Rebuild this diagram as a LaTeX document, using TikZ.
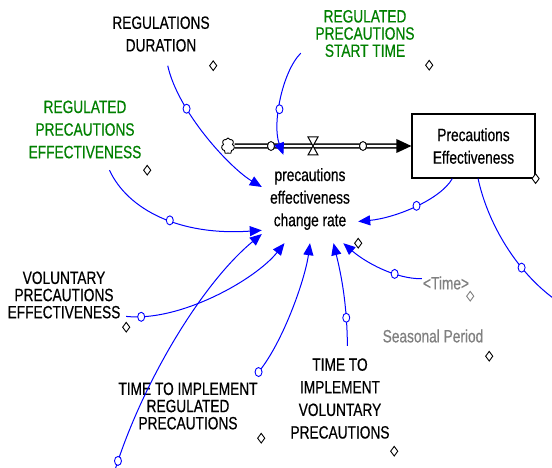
\documentclass[tikz,border=0pt]{standalone}
\usepackage{fontspec}
\setmainfont{Liberation Sans}[FakeStretch=0.77, FakeBold=0.5]
\usetikzlibrary{arrows.meta, shapes.geometric, shapes.symbols, positioning}
\definecolor{lnkblue}{RGB}{0,0,255}
\definecolor{auxgreen}{RGB}{0,128,0}
\definecolor{shdgray}{RGB}{128,128,128}
\newcommand{\loosetxt}{\fontsize{17.8}{22.6}\selectfont}
\newcommand{\tighttxt}{\fontsize{17.8}{17.2}\selectfont}

\begin{document}
\begin{tikzpicture}[x=1pt, y=-1pt,
    lvar/.style={align=center, inner sep=0pt, font=\loosetxt},
    tvar/.style={align=center, inner sep=0pt, font=\tighttxt},
    lvl/.style={lvar, draw, line width=1.2pt, fill=white},
    dmd/.style={diamond, draw, fill=white, line width=0.9pt, minimum width=7.5pt, minimum height=10pt, inner sep=0pt},
    hdl/.style={ellipse, draw=lnkblue, fill=white, line width=0.9pt, minimum width=7pt, minimum height=9pt, inner sep=0pt},
    pdot/.style={hdl, draw=black},
    link/.style={draw=lnkblue, line width=1pt, -{Triangle[length=12pt,width=10pt]}},
    pipe/.style={double, double distance=2.2pt, line width=1.5pt}]
        \fill[white] (0,0) rectangle (552,468);
        \useasboundingbox (0,0) rectangle (552,468);
        \clip (0,0) rectangle (552,468);

        % variables
        \node[lvar, minimum width=104pt, minimum height=63pt] (rd) at (161,34) {REGULATIONS\\DURATION};
        \node[tvar, text=auxgreen, minimum width=128pt, minimum height=63pt] (rst) at (365,33.5) {REGULATED\\PRECAUTIONS\\START TIME};
        \node[lvar, text=auxgreen, minimum width=124pt, minimum height=81pt] (rpe) at (85,129.5) {REGULATED\\PRECAUTIONS\\EFFECTIVENESS};
        \node[lvar, minimum width=96pt, minimum height=88pt] (rate) at (310,199) {precautions\\effectiveness\\change rate};
        \node[tvar, minimum width=124pt, minimum height=64pt] (vpe) at (64,295) {VOLUNTARY\\PRECAUTIONS\\EFFECTIVENESS};
        \node[tvar, minimum width=146pt, minimum height=64pt] (ttirp) at (188,406) {TIME TO IMPLEMENT\\REGULATED\\PRECAUTIONS};
        \node[lvar, minimum width=108pt, minimum height=105pt] (ttivp) at (340,398.5) {TIME TO\\IMPLEMENT\\VOLUNTARY\\PRECAUTIONS};
        \node[lvar, text=shdgray, minimum width=48pt, minimum height=26pt] (tm) at (446,283) {<Time>};
        \node[lvar, text=shdgray, minimum width=112pt, minimum height=40pt] (sp) at (433,336) {Seasonal Period};
        \coordinate (lk) at (112,480);
        \coordinate (rk) at (568,308);

        % flow into the stock
        \node[cloud, cloud puffs=7, draw, fill=white, line width=0.9pt, minimum width=13pt, minimum height=16pt, inner sep=0pt] (cld) at (228,146) {};
        \node[lvl, minimum width=123pt, minimum height=64pt] (stk) at (473.5,146) {Precautions\\Effectiveness};
        \draw[pipe, shorten >=14pt] (cld) -- (stk);
        \fill (stk.west) -- ++(-15,-7) -- ++(0,14) -- cycle;
        \node[pdot] (f1) at (271,146) {};
        \node[pdot] (f2) at (363,146) {};
        \draw[fill=white, line width=1pt] (308,137) -- (318,137) -- (308,155) -- (318,155) -- cycle;

        % links
        \draw[link] (rd.-78) .. controls (178,112) and (230,168) .. (rate.166) node[hdl, pos=0.3] (h1) {};
        \draw[link] (rst.197) .. controls (282,72) and (272,125) .. (rate.121) node[hdl, pos=0.58] (h2) {};
        \draw[link] (rpe.-59) .. controls (128,210) and (180,236) .. (rate.213) node[hdl, pos=0.55] (h3) {};
        \draw[link] (stk.-123) .. controls (440,200) and (395,218) .. (rate.-25) node[hdl, pos=0.48] (h4) {};
        \draw[link] (vpe.-19) .. controls (180,322) and (255,280) .. (rate.-120) node[hdl, pos=0.09] (h5) {};
        \draw[link] (lk) .. controls (138,390) and (200,285) .. (rate.216) node[hdl, pos=0.07] (h6) {};
        \draw[link] (ttirp.25) .. controls (282,345) and (305,280) .. (rate.-90) node[hdl, pos=0.02] (h7) {};
        \draw[link] (ttivp.82) .. controls (347,300) and (340,270) .. (rate.-62) node[hdl, pos=0.22] (h8) {};
        \draw[link] (tm.170) .. controls (395,279) and (365,262) .. (rate.-53) node[hdl, pos=0.33] (h9) {};
        \draw[link, -] (stk.-82) .. controls (488,225) and (520,280) .. (rk) node[hdl, pos=0.63] (h10) {};

        % corner marks
        \node[dmd] (rdd) at (rd.south east) {};
        \node[dmd] (rstd) at (rst.south east) {};
        \node[dmd] (rped) at (rpe.south east) {};
        \node[dmd] (rated) at (rate.south east) {};
        \node[dmd] (stkd) at (stk.south east) {};
        \node[dmd] (vped) at (vpe.south east) {};
        \node[dmd] (ttirpd) at (ttirp.south east) {};
        \node[dmd] (ttivpd) at (ttivp.south east) {};
        \node[dmd, draw=shdgray] (tmd) at (tm.south east) {};
        \node[dmd] (spd) at (sp.south east) {};
\end{tikzpicture}
\end{document}
